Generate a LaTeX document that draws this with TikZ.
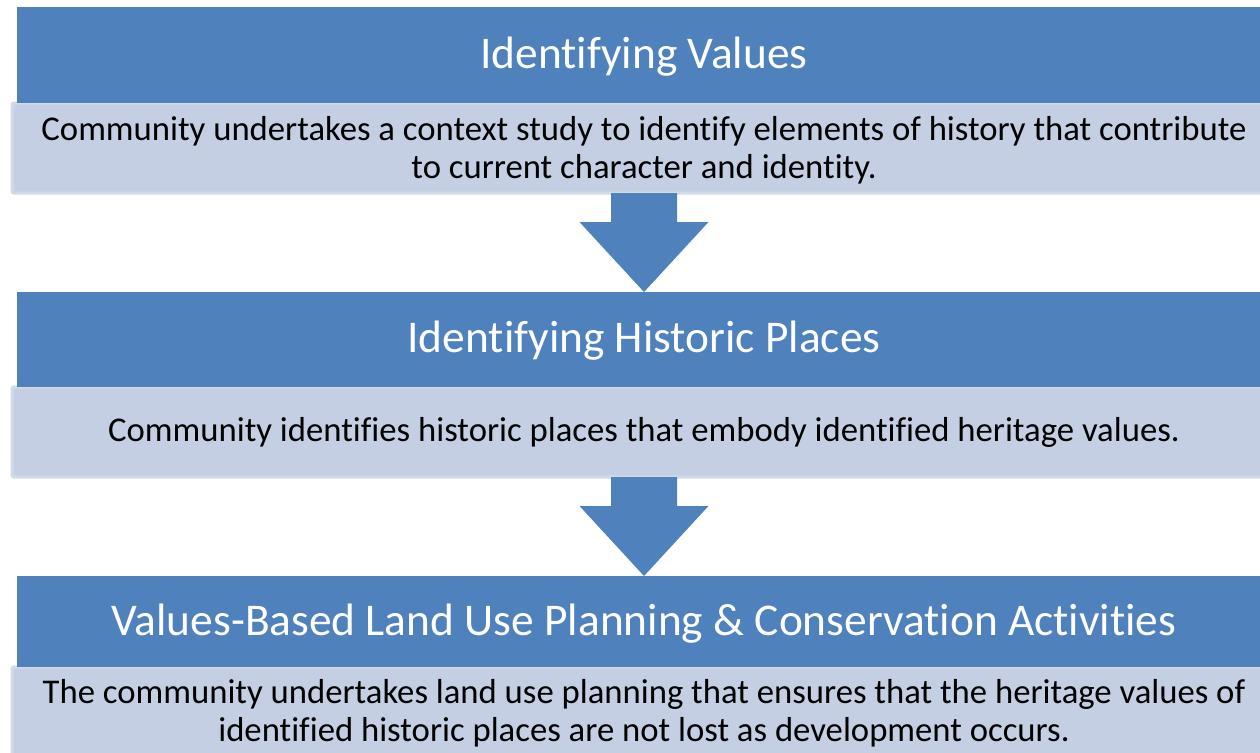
\documentclass[tikz,border=0pt]{standalone}
\usepackage{fontspec}
\setmainfont[Ligatures={NoCommon,NoRequired,NoContextual}]{Carlito}
\definecolor{hdr}{RGB}{79,129,189}
\definecolor{bodyfill}{RGB}{196,207,227}
\definecolor{bodyline}{RGB}{210,218,234}
\tikzset{
  hdrbox/.style={fill=hdr, draw=none},
  bodybox/.style={fill=bodyfill, draw=bodyline, line width=3pt, rounded corners=2pt},
  hdrtext/.style={text=white, font=\fontsize{45.4}{54}\selectfont, anchor=center},
  bodytext/.style={text=black, font=\fontsize{34.7}{37.5}\selectfont, align=center, anchor=center}
}
\begin{document}
\begin{tikzpicture}[x=1pt,y=-1pt]
\useasboundingbox (0,0) rectangle (1260,752);
\clip (0,0) rectangle (1260,752);
% stage 1
\draw[bodybox] (12,103) rectangle (1276,193);
\fill[hdrbox] (16.5,7.5) rectangle (1272,103);
\node[hdrtext] (t1) at (644,56.5) {Identifying Values};
\node[bodytext] (b1) at (644,150) {Community undertakes a context study to identify elements of history that contribute\\to current character and identity.};
% stage 2
\draw[bodybox] (12,387) rectangle (1276,477);
\fill[hdrbox] (16.5,292) rectangle (1272,387);
\node[hdrtext] (t2) at (644,340.5) {Identifying Historic Places};
\node[bodytext] (b2) at (644,432.5) {Community identifies historic places that embody identified heritage values.};
% stage 3
\draw[bodybox] (12,667) rectangle (1276,758);
\fill[hdrbox] (16.5,576) rectangle (1272,667);
\node[hdrtext] (t3) at (644,623.5) {Values-Based Land Use Planning \& Conservation Activities};
\node[bodytext] (b3) at (644,713) {The community undertakes land use planning that ensures that the heritage values of\\identified historic places are not lost as development occurs.};
% arrows
\coordinate (a1) at (644,193);
\coordinate (a1tip) at (644,292);
\fill[hdr] ([xshift=-33pt]a1) -- ([xshift=33pt]a1) -- ([xshift=33pt,yshift=-29pt]a1) -- ([xshift=64.5pt,yshift=-29pt]a1) -- (a1tip) -- ([xshift=-64.5pt,yshift=-29pt]a1) -- ([xshift=-33pt,yshift=-29pt]a1) -- cycle;
\coordinate (a2) at (644,477);
\coordinate (a2tip) at (644,576);
\fill[hdr] ([xshift=-33pt]a2) -- ([xshift=33pt]a2) -- ([xshift=33pt,yshift=-29pt]a2) -- ([xshift=64.5pt,yshift=-29pt]a2) -- (a2tip) -- ([xshift=-64.5pt,yshift=-29pt]a2) -- ([xshift=-33pt,yshift=-29pt]a2) -- cycle;
\end{tikzpicture}
\end{document}
